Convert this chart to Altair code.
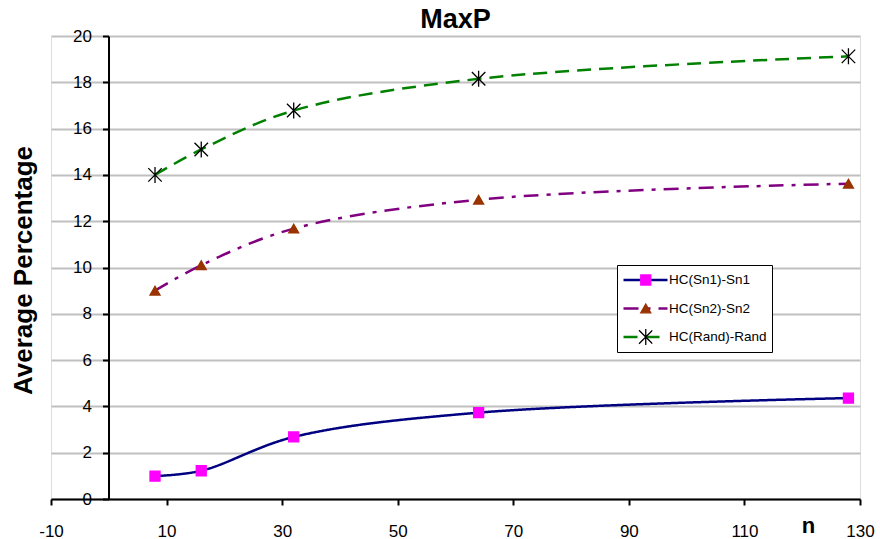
import altair as alt
import pandas as pd

# ---- data ----
n_values = [8, 16, 32, 64, 128]
sn1 = [0.99, 1.22, 2.68, 3.73, 4.36]
sn2 = [9.0, 10.1, 11.68, 12.93, 13.62]
rand = [14.0, 15.1, 16.78, 18.15, 19.12]
series_names = ["HC(Sn1)-Sn1", "HC(Sn2)-Sn2", "HC(Rand)-Rand"]
marker_keys = ["m1", "m2", "m3"]
x_ticks = [-10, 10, 30, 50, 70, 90, 110, 130]
y_ticks = [0, 2, 4, 6, 8, 10, 12, 14, 16, 18, 20]

# ---- styles ----
line_colors = ["#000080", "#800080", "#008000"]
marker_colors = ["#FF00FF", "#993300", "#000000"]
dashes = [[1, 0], [15, 8, 4, 8], [14, 8]]
star = "M-1.35,-1.35L1.35,1.35M-1.35,1.35L1.35,-1.35M0,-1.6L0,1.6"
shapes = ["square", "triangle-up", star]
FONT = "Liberation Sans"

rows = []
for name, key, vals in zip(series_names, marker_keys, [sn1, sn2, rand]):
    for n, v in zip(n_values, vals):
        rows.append({"n": n, "value": v, "series": name, "marker": key})
df = pd.DataFrame(rows)

x_scale = alt.Scale(domain=[-10, 130], nice=False, zero=False)
y_scale = alt.Scale(domain=[0, 20], nice=False)

x_axis = alt.Axis(
    values=x_ticks, grid=False, title="n", titleFont=FONT, titleFontSize=22,
    titleFontWeight="bold", titleColor="black", titleX=757, titleY=33,
    titleAlign="center", titleBaseline="alphabetic",
    labelExpr="'' + datum.value",
    labelFont=FONT, labelFontSize=17, labelColor="black", labelPadding=18,
    labelFlush=False, tickSize=6, tickWidth=2, tickColor="black",
    domainColor="black", domainWidth=2,
)
y_axis = alt.Axis(
    values=y_ticks, offset=-57.5, grid=True, gridColor="#c0c0c0", gridWidth=2,
    title="Average Percentage", titleFont=FONT, titleFontSize=26,
    titleFontWeight="bold", titleColor="black", titleX=-85.5, titleY=234,
    titleAngle=270, titleAlign="center", titleBaseline="middle",
    labelFont=FONT, labelFontSize=17, labelColor="black", labelPadding=11,
    tickSize=6, tickWidth=2, tickColor="black", domainColor="black", domainWidth=2,
)

LX, LY = 566, 229

line_legend = alt.Legend(
    title=None, orient="none", legendX=LX, legendY=LY, symbolType="stroke",
    symbolSize=1936, symbolStrokeWidth=2.5, clipHeight=20, rowPadding=8.5,
    labelFont=FONT, labelFontSize=13.5, labelColor="black", labelOffset=0,
    padding=5, fillColor="white", strokeColor="black", zindex=1,
)
marker_legend = alt.Legend(
    title=None, orient="none", legendX=LX, legendY=LY, symbolSize=100,
    symbolStrokeWidth=1.3, clipHeight=20, rowPadding=8.5, symbolOffset=17,
    labelExpr="''", labelFont=FONT, labelFontSize=13.5, labelOffset=0,
    padding=5, zindex=2,
)

base = alt.Chart(df)

lines = base.mark_line(interpolate="catmull-rom", strokeWidth=2.5).encode(
    x=alt.X("n:Q", scale=x_scale, axis=x_axis),
    y=alt.Y("value:Q", scale=y_scale, axis=y_axis),
    color=alt.Color("series:N", scale=alt.Scale(domain=series_names, range=line_colors),
                    legend=line_legend),
    strokeDash=alt.StrokeDash("series:N", scale=alt.Scale(domain=series_names, range=dashes)),
)

points = base.mark_point(filled=True, size=100, strokeWidth=1.3, opacity=1).encode(
    x=alt.X("n:Q", scale=x_scale),
    y=alt.Y("value:Q", scale=y_scale),
    fill=alt.Fill("marker:N", scale=alt.Scale(range=marker_colors), legend=marker_legend),
    stroke=alt.Stroke("marker:N", scale=alt.Scale(range=marker_colors), legend=marker_legend),
    shape=alt.Shape("marker:N", scale=alt.Scale(range=shapes), legend=marker_legend),
)

chart = alt.layer(lines, points).properties(
    width=809, height=463,
    title=alt.TitleParams("MaxP", font=FONT, fontSize=27, fontWeight="bold",
                          color="black", anchor="middle", offset=-7),
    autosize=alt.AutoSizeParams(type="none"),
    padding={"left": 51, "top": 36, "right": 20, "bottom": 40},
).configure_view(strokeWidth=0).configure(background="white")

chart.save("out.html", embed_options={"renderer": "svg", "actions": False})
